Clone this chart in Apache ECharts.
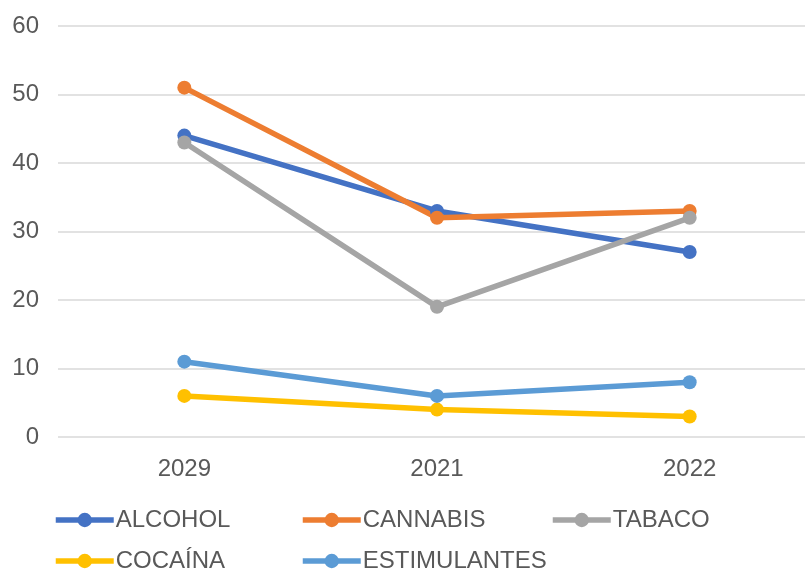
<!DOCTYPE html>
<html>
<head>
<meta charset="utf-8">
<script src="https://cdn.jsdelivr.net/npm/echarts@6/dist/echarts.min.js"></script>
<style>
  html, body { margin: 0; padding: 0; background: #fff; }
  #chart { width: 805px; height: 572px; }
</style>
</head>
<body>
<div id="chart"></div>
<script>
// Years on the category axis
const years = ['2029', '2021', '2022'];

// Percentages per substance
const alcohol = [44, 33, 27];
const cannabis = [51, 32, 33];
const tabaco = [43, 19, 32];
const cocaina = [6, 4, 3];
const estimulantes = [11, 6, 8];

const seriesNames = ['ALCOHOL', 'CANNABIS', 'TABACO', 'COCAÍNA', 'ESTIMULANTES'];
const seriesValues = [alcohol, cannabis, tabaco, cocaina, estimulantes];
const colors = ['#4472C4', '#ED7D31', '#A5A5A5', '#FFC000', '#5B9BD5'];

// Legend slots (two rows)
const legendPos = [
  { left: 53, top: 506 },
  { left: 300, top: 506 },
  { left: 550, top: 506 },
  { left: 53, top: 547 },
  { left: 300, top: 547 }
];

const font = 'Liberation Sans, Arial, sans-serif';

const chart = echarts.init(document.getElementById('chart'), null, { renderer: 'canvas' });

chart.setOption({
  animation: false,
  color: colors,
  // plot area runs a little past the right edge of the canvas
  grid: {
    left: 58, width: 758, top: 26, height: 411,
    containLabel: false, outerBoundsMode: 'none'
  },
  xAxis: {
    type: 'category',
    data: years,
    boundaryGap: true,
    axisLine: { show: false },
    axisTick: { show: false },
    axisLabel: { color: '#595959', fontSize: 24, fontFamily: font, margin: 20 }
  },
  yAxis: {
    type: 'value',
    min: 0,
    max: 60,
    interval: 10,
    axisLine: { show: false },
    axisTick: { show: false },
    splitLine: { lineStyle: { color: '#D9D9D9', width: 1.5 } },
    axisLabel: { color: '#595959', fontSize: 24, fontFamily: font, margin: 19 }
  },
  legend: seriesNames.map((n, i) => ({
    data: [n],
    left: legendPos[i].left,
    top: legendPos[i].top,
    itemWidth: 58,
    itemHeight: 18,
    itemGap: 0,
    padding: 0,
    lineStyle: { width: 5.5 },
    textStyle: { color: '#595959', fontSize: 24, fontFamily: font, lineHeight: 28, padding: [0, 0, 0, -3] }
  })),
  series: seriesNames.map((n, i) => ({
    name: n,
    type: 'line',
    data: seriesValues[i],
    symbol: 'circle',
    symbolSize: 14,
    lineStyle: { width: 5.5, color: colors[i] },
    itemStyle: { color: colors[i] }
  }))
});
</script>
</body>
</html>
